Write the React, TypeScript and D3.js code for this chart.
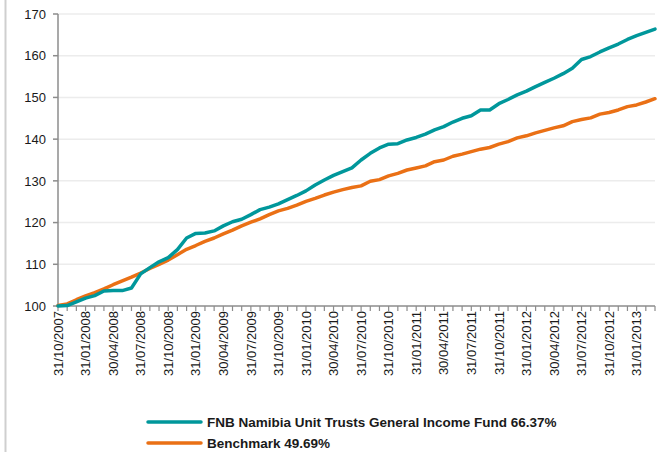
import React, { useEffect, useRef } from 'react'
import * as d3 from 'd3'

// monthly index values, 31/10/2007 .. 31/03/2013
const fund = [
  100, 100.1, 101.0, 101.9, 102.5, 103.6, 103.7, 103.7, 104.3, 107.7,
  109.2, 110.6, 111.6, 113.5, 116.3, 117.4, 117.5, 118.0, 119.2, 120.2,
  120.8, 121.9, 123.1, 123.7, 124.5, 125.5, 126.5, 127.6, 129.0, 130.2,
  131.3, 132.2, 133.1, 135.0, 136.6, 137.9, 138.8, 138.9, 139.8, 140.4,
  141.2, 142.2, 143.0, 144.1, 145.0, 145.6, 147.0, 147.0, 148.5, 149.5,
  150.6, 151.5, 152.6, 153.6, 154.6, 155.7, 157.0, 159.1, 159.8, 160.9,
  161.9, 162.8, 163.9, 164.8, 165.6, 166.37,
]

const benchmark = [
  100.1, 100.5, 101.5, 102.4, 103.2, 104.1, 105.1, 106.0, 106.9, 107.9,
  109.0, 110.0, 111.0, 112.3, 113.6, 114.5, 115.5, 116.3, 117.3, 118.2,
  119.2, 120.1, 120.9, 121.9, 122.8, 123.4, 124.2, 125.1, 125.8, 126.6,
  127.3, 127.9, 128.4, 128.8, 129.9, 130.3, 131.2, 131.8, 132.6, 133.1,
  133.6, 134.6, 135.0, 135.9, 136.4, 137.0, 137.6, 138.0, 138.8, 139.4,
  140.3, 140.8, 141.5, 142.1, 142.7, 143.2, 144.2, 144.7, 145.1, 146.0,
  146.4, 147.0, 147.8, 148.2, 148.9, 149.69,
]

// one label every third month
const tickLabels = [
  '31/10/2007', '31/01/2008', '30/04/2008', '31/07/2008', '31/10/2008',
  '31/01/2009', '30/04/2009', '31/07/2009', '31/10/2009', '31/01/2010',
  '30/04/2010', '31/07/2010', '31/10/2010', '31/01/2011', '30/04/2011',
  '31/07/2011', '31/10/2011', '31/01/2012', '30/04/2012', '31/07/2012',
  '31/10/2012', '31/01/2013',
]

const yTicks = [100, 110, 120, 130, 140, 150, 160, 170]

const seriesNames = [
  'FNB Namibia Unit Trusts General Income Fund 66.37%',
  'Benchmark 49.69%',
]
const colors = ['#00979b', '#ea7015']

export default function App() {
  const ref = useRef<SVGSVGElement>(null)

  useEffect(() => {
    const svg = d3.select(ref.current)
    svg.selectAll('*').remove()

    const font = '"Liberation Sans", Arial, sans-serif'
    const x = d3.scaleLinear().domain([0, fund.length - 1]).range([58, 655])
    const y = d3.scaleLinear().domain([100, 170]).range([306, 14])

    // left frame line
    svg.append('line')
      .attr('x1', 5.5).attr('x2', 5.5).attr('y1', 0).attr('y2', 452)
      .attr('stroke', '#cfcfcf').attr('stroke-width', 2)

    // gridlines
    svg.append('g').selectAll('line')
      .data(yTicks.filter(d => d > 100))
      .enter().append('line')
      .attr('x1', 58).attr('x2', 655)
      .attr('y1', d => y(d)).attr('y2', d => y(d))
      .attr('stroke', '#ececec').attr('stroke-width', 1.5)

    // y axis
    const yAxis = svg.append('g')
    yAxis.append('line')
      .attr('x1', 58).attr('x2', 58).attr('y1', y(170)).attr('y2', y(100))
      .attr('stroke', '#8c8c8c').attr('stroke-width', 1.5)
    yAxis.selectAll('line.tk').data(yTicks).enter().append('line')
      .attr('class', 'tk')
      .attr('x1', 53).attr('x2', 58)
      .attr('y1', d => y(d)).attr('y2', d => y(d))
      .attr('stroke', '#8c8c8c').attr('stroke-width', 1.5)
    yAxis.selectAll('text').data(yTicks).enter().append('text')
      .attr('x', 46).attr('y', d => y(d))
      .attr('dy', '0.36em')
      .attr('text-anchor', 'end')
      .attr('font-family', font).attr('font-size', 13)
      .attr('fill', '#1a1a1a')
      .text(d => d)

    // x axis
    const xAxis = svg.append('g')
    xAxis.append('line')
      .attr('x1', 58).attr('x2', 655).attr('y1', y(100)).attr('y2', y(100))
      .attr('stroke', '#8c8c8c').attr('stroke-width', 1.5)
    xAxis.selectAll('line.tk').data(d3.range(fund.length)).enter().append('line')
      .attr('class', 'tk')
      .attr('x1', d => x(d)).attr('x2', d => x(d))
      .attr('y1', y(100)).attr('y2', y(100) + 5)
      .attr('stroke', '#8c8c8c').attr('stroke-width', 1.2)
    xAxis.selectAll('text').data(tickLabels).enter().append('text')
      .attr('transform', (d, i) => `translate(${x(i * 3)},${y(100) + 5}) rotate(-90)`)
      .attr('dy', '0.36em')
      .attr('text-anchor', 'end')
      .attr('font-family', font).attr('font-size', 13)
      .attr('fill', '#1a1a1a')
      .text(d => d)

    // lines
    const line = d3.line<number>()
      .x((d, i) => x(i))
      .y(d => y(d))
    ;[benchmark, fund].forEach((s, k) => {
      svg.append('path')
        .attr('d', line(s))
        .attr('fill', 'none')
        .attr('stroke', colors[1 - k])
        .attr('stroke-width', 3.5)
        .attr('stroke-linejoin', 'round')
        .attr('stroke-linecap', 'round')
    })

    // legend
    const lg = svg.append('g')
    seriesNames.forEach((name, i) => {
      const ly = 422 + i * 21
      lg.append('line')
        .attr('x1', 148).attr('x2', 201).attr('y1', ly).attr('y2', ly)
        .attr('stroke', colors[i]).attr('stroke-width', 3.5)
        .attr('stroke-linecap', 'round')
      lg.append('text')
        .attr('x', 207).attr('y', ly).attr('dy', '0.36em')
        .attr('font-family', font).attr('font-size', 13.5)
        .attr('font-weight', 'bold').attr('fill', '#1a1a1a')
        .text(name)
    })
  }, [])

  return (
    <svg ref={ref} width={665} height={452}
      style={{ position: 'absolute', left: 0, top: 0, background: '#fff' }} />
  )
}
